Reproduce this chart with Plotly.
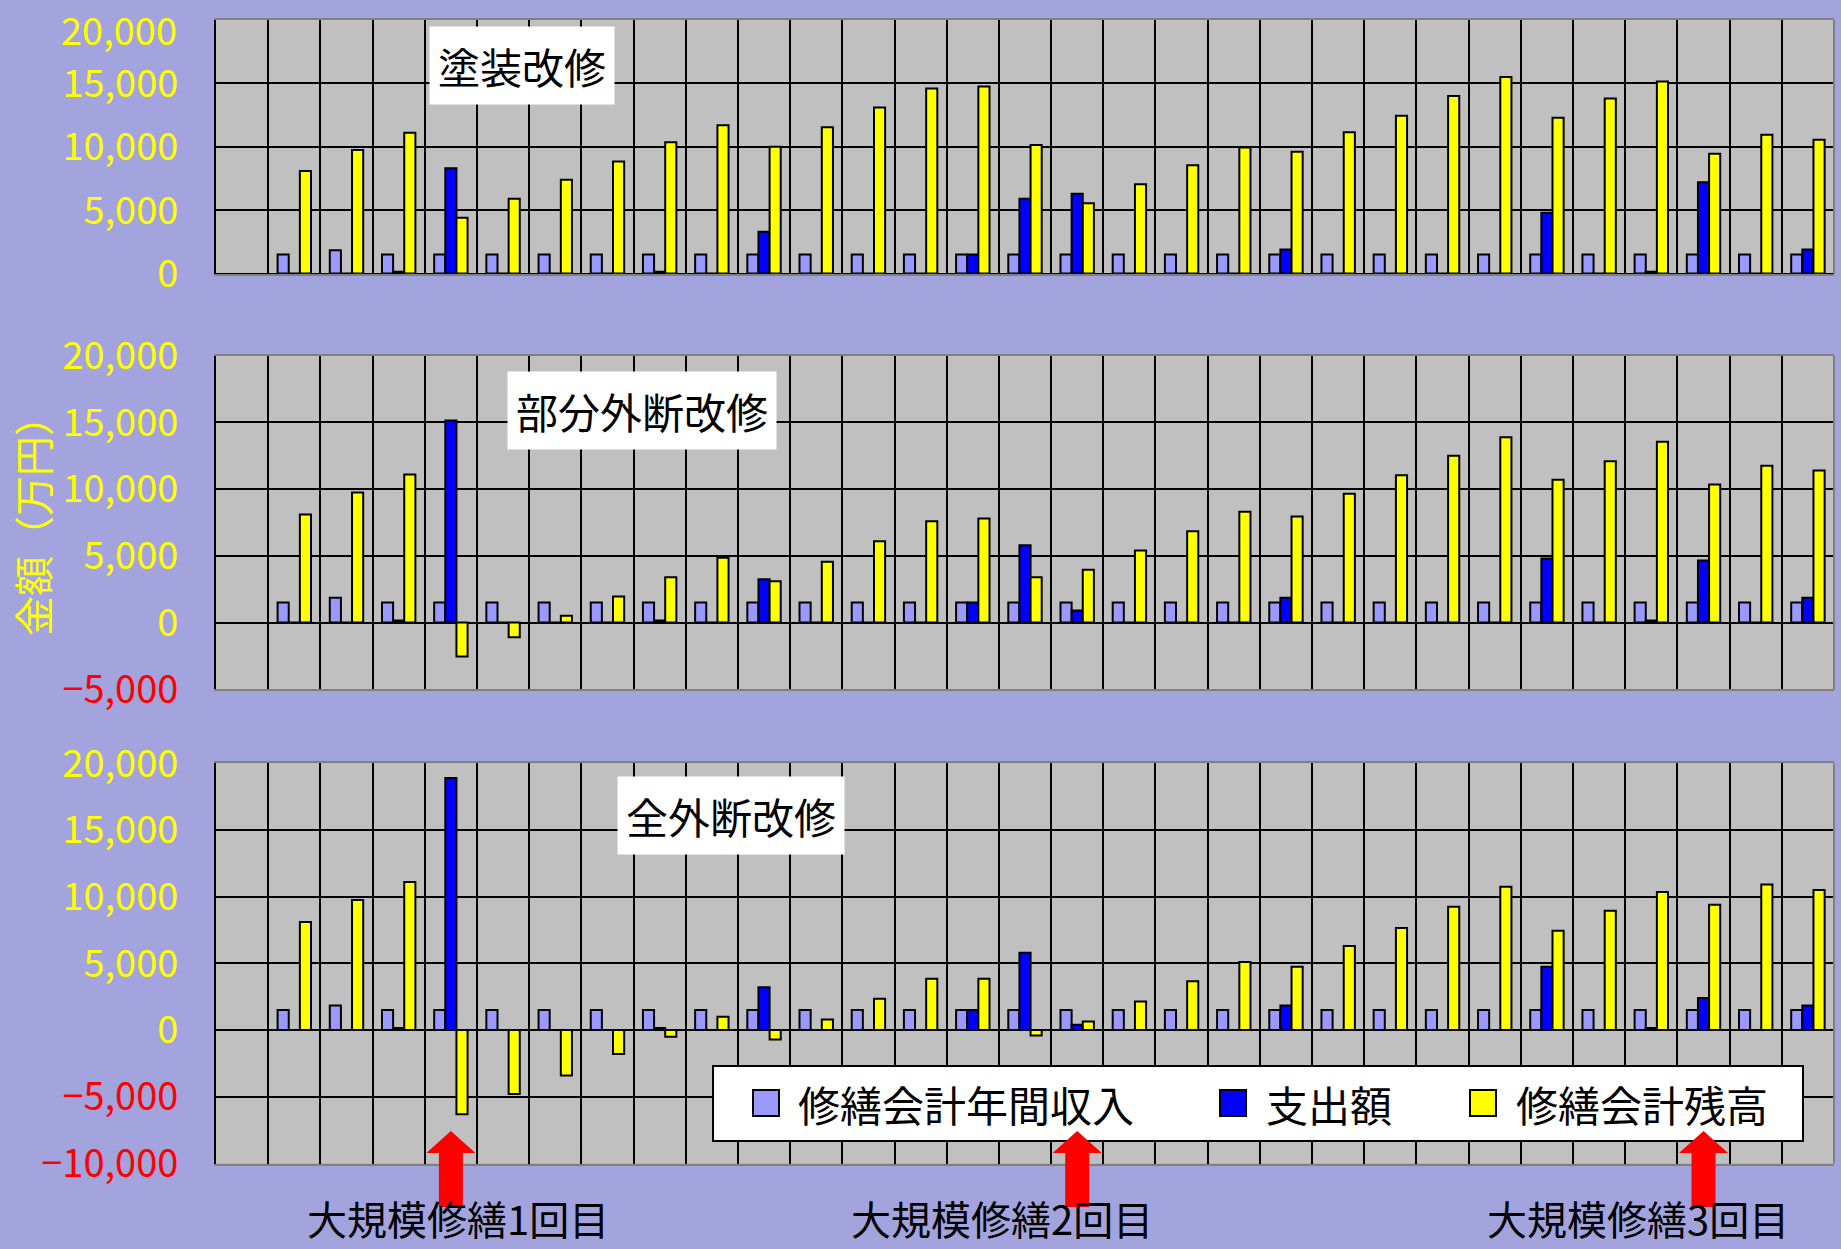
import plotly.graph_objects as go

# ---- data (万円) ----------------------------------------------------------
years = [str(i) for i in range(31)]

income = [None, 1500, 1850, 1500, 1500, 1500, 1500, 1500, 1500, 1500, 1500,
          1500, 1500, 1500, 1500, 1500, 1500, 1500, 1500, 1500, 1500,
          1500, 1500, 1500, 1500, 1500, 1500, 1500, 1500, 1500, 1500]

# 塗装改修
expense_paint = [None, 0, 0, 150, 8300, 0, 0, 0, 150, 0, 3300,
                 0, 0, 0, 1500, 5900, 6300, 0, 0, 0, 1900,
                 0, 0, 0, 0, 4800, 0, 150, 7200, 0, 1900]
balance_paint = [None, 8100, 9750, 11100, 4400, 5900, 7400, 8850, 10350, 11700, 10000,
                 11550, 13100, 14600, 14750, 10150, 5550, 7050, 8550, 9950, 9600,
                 11150, 12450, 14000, 15500, 12300, 13800, 15150, 9450, 10950, 10550]

# 部分外断改修
expense_partial = [None, 0, 0, 150, 15150, 0, 0, 0, 150, 0, 3250,
                   0, 0, 0, 1500, 5800, 900, 0, 0, 0, 1850,
                   0, 0, 0, 0, 4800, 0, 150, 4650, 0, 1850]
balance_partial = [None, 8100, 9750, 11100, -2550, -1100, 500, 1950, 3400, 4850, 3100,
                   4550, 6100, 7600, 7800, 3400, 3950, 5400, 6850, 8300, 7950,
                   9650, 11050, 12500, 13900, 10700, 12100, 13550, 10350, 11750, 11400]

# 全外断改修
expense_full = [None, 0, 0, 150, 18900, 0, 0, 0, 150, 0, 3200,
                0, 0, 0, 1500, 5800, 400, 0, 0, 0, 1850,
                0, 0, 0, 0, 4750, 0, 150, 2400, 0, 1850]
balance_full = [None, 8100, 9750, 11100, -6300, -4800, -3400, -1800, -500, 1000, -700,
                800, 2350, 3850, 3850, -400, 650, 2150, 3650, 5100, 4750,
                6300, 7650, 9250, 10750, 7450, 8950, 10350, 9400, 10900, 10500]

panel_titles = ["塗装改修", "部分外断改修", "全外断改修"]
series_names = ["修繕会計年間収入", "支出額", "修繕会計残高"]
major_repairs = ["大規模修繕1回目", "大規模修繕2回目", "大規模修繕3回目"]
major_repair_years = [4, 16, 28]
y_title = "金額（万円）"

# ---- styling ---------------------------------------------------------------
FONT = "Noto Sans CJK JP"
BG = "#A3A3DD"
PLOT_BG = "#C0C0C0"
C_INCOME = "#9999FF"
C_EXPENSE = "#0000FF"
C_BALANCE = "#FFFF00"
TICK_SIZE = 38
W, H = 1841, 1249

x_domain = [216 / W, 1834 / W]
panels = [
    dict(title=panel_titles[0], expense=expense_paint, balance=balance_paint,
         yrange=[0, 20000], ydom=[(H - 273.6) / H, (H - 20) / H],
         tpos=(522, 65)),
    dict(title=panel_titles[1], expense=expense_partial, balance=balance_partial,
         yrange=[-5000, 20000], ydom=[(H - 689.2) / H, (H - 355.8) / H],
         tpos=(642, 411)),
    dict(title=panel_titles[2], expense=expense_full, balance=balance_full,
         yrange=[-10000, 20000], ydom=[(H - 1163.5) / H, (H - 763.2) / H],
         tpos=(731, 815)),
]


def tick_label(v):
    s = f"{abs(v):,}"
    if v < 0:
        return f"<span style='color:#FF0000'>−{s}</span>"
    return s


fig = go.Figure()
layout = dict(
    template="none",
    width=W, height=H, autosize=False,
    margin=dict(l=0, r=0, t=0, b=0, pad=0),
    paper_bgcolor=BG, plot_bgcolor=PLOT_BG,
    barmode="group", bargap=0.36, bargroupgap=0,
    showlegend=False,
    font=dict(family=FONT, color="#000000"),
)
shapes = []
annotations = []

for k, p in enumerate(panels):
    sfx = "" if k == 0 else str(k + 1)
    xa, ya = "x" + sfx, "y" + sfx
    bar_style = dict(xaxis=xa, yaxis=ya, x=years)
    fig.add_trace(go.Bar(name=series_names[0], y=income,
                         marker=dict(color=C_INCOME, line=dict(color="black", width=2)),
                         **bar_style))
    fig.add_trace(go.Bar(name=series_names[1], y=p["expense"],
                         marker=dict(color=C_EXPENSE, line=dict(color="black", width=2)),
                         **bar_style))
    fig.add_trace(go.Bar(name=series_names[2], y=p["balance"],
                         marker=dict(color=C_BALANCE, line=dict(color="black", width=2)),
                         **bar_style))

    tv = list(range(p["yrange"][0], p["yrange"][1] + 1, 5000))
    tt = [tick_label(v) for v in tv]
    if k == 0:
        # the topmost label sits against the page edge; it is placed separately
        tt[-1] = ""
    layout["xaxis" + sfx] = dict(
        domain=x_domain, anchor=ya, type="category", automargin=False,
        tickson="boundaries", showticklabels=False, ticks="",
        showgrid=True, gridcolor="black", gridwidth=2,
        showline=True, linecolor="#808080", linewidth=2, mirror=True,
        zeroline=False, fixedrange=True,
    )
    layout["yaxis" + sfx] = dict(
        domain=p["ydom"], anchor=xa, range=p["yrange"], automargin=False,
        tickvals=tv, ticktext=tt,
        tickfont=dict(family=FONT, size=TICK_SIZE, color="#FFFF00"),
        ticklabeloverflow="allow",
        ticks="inside", ticklen=12, tickwidth=2, tickcolor="black",
        ticklabelstandoff=28,
        showgrid=True, gridcolor="black", gridwidth=2,
        zeroline=True, zerolinecolor="black", zerolinewidth=2,
        showline=True, linecolor="black", linewidth=2,
        fixedrange=True,
    )
    # right-hand border of the plot area
    shapes.append(dict(type="line", xref=xa + " domain", yref=ya + " domain",
                       x0=1, x1=1, y0=0, y1=1,
                       line=dict(color="#808080", width=2), layer="above"))
    # panel caption
    tx, ty = p["tpos"]
    annotations.append(dict(
        text=p["title"], xref="paper", yref="paper",
        x=tx / W, y=(H - ty) / H, xanchor="center", yanchor="middle",
        showarrow=False, bgcolor="white", borderpad=8,
        font=dict(family=FONT, size=42, color="black"),
    ))

# top label of the first panel's value axis
annotations.append(dict(
    text=tick_label(panels[0]["yrange"][1]), xref="paper", yref="paper",
    x=178 / W, y=1, xanchor="right", yanchor="top", showarrow=False,
    borderpad=0, font=dict(family=FONT, size=TICK_SIZE, color="#FFFF00"),
))

# vertical axis title
annotations.append(dict(
    text=y_title, xref="paper", yref="paper", x=32 / W, y=(H - 516) / H,
    xanchor="center", yanchor="middle", textangle=-90, showarrow=False,
    font=dict(family=FONT, size=40, color="#FFFF00"),
))

# legend box drawn inside the bottom panel
shapes.append(dict(type="rect", xref="paper", yref="paper",
                   x0=713 / W, x1=1803 / W, y0=(H - 1141) / H, y1=(H - 1066) / H,
                   fillcolor="white", line=dict(color="black", width=2), layer="above"))
legend_items = [(series_names[0], C_INCOME, 753, 796),
                (series_names[1], C_EXPENSE, 1220, 1264),
                (series_names[2], C_BALANCE, 1470, 1514)]
for name, col, sx, tx in legend_items:
    shapes.append(dict(type="rect", xref="paper", yref="paper",
                       x0=sx / W, x1=(sx + 26) / W,
                       y0=(H - 1116) / H, y1=(H - 1090) / H,
                       fillcolor=col, line=dict(color="black", width=2), layer="above"))
    annotations.append(dict(
        text=name, xref="paper", yref="paper", x=tx / W, y=(H - 1103) / H,
        xanchor="left", yanchor="middle", showarrow=False,
        font=dict(family=FONT, size=42, color="black"),
    ))

# red arrows marking the major repair years
y_tip, y_head, y_tail = (H - 1131) / H, (H - 1153) / H, (H - 1207) / H
for c in major_repair_years:
    hw, sw = 0.47, 0.23
    path = (f"M {c - sw},{y_tail} L {c - sw},{y_head} L {c - hw},{y_head} "
            f"L {c},{y_tip} L {c + hw},{y_head} L {c + sw},{y_head} "
            f"L {c + sw},{y_tail} Z")
    shapes.append(dict(type="path", xref="x3", yref="paper", path=path,
                       fillcolor="#FF0000", line=dict(width=0), layer="above"))

label_centers = [458, 1002, 1638]
for text, cx in zip(major_repairs, label_centers):
    annotations.append(dict(
        text=text, xref="paper", yref="paper", x=cx / W, y=0,
        xanchor="center", yanchor="bottom", showarrow=False,
        font=dict(family=FONT, size=40, color="black"),
    ))

layout["shapes"] = shapes
layout["annotations"] = annotations
fig.update_layout(**layout)

fig.write_html("out.html")
